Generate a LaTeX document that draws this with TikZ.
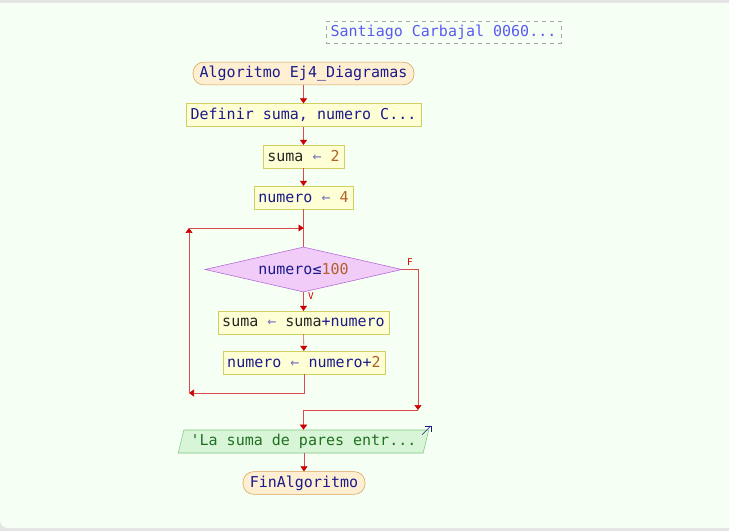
\documentclass[tikz,border=0pt]{standalone}
\usepackage{fontspec}
\setmonofont{DejaVu Sans Mono}
\usetikzlibrary{shapes.geometric, arrows.meta}

\definecolor{fondo}{HTML}{F6FFF4}
\definecolor{borde}{HTML}{E4E4E4}
\definecolor{linea}{HTML}{D94C4C}
\definecolor{punta}{HTML}{CC0000}
\definecolor{texto}{HTML}{1A1A8C}
\definecolor{numero}{HTML}{B0602A}
\definecolor{titulo}{HTML}{5A5AF0}

\tikzset{
  inicio/.style={draw={rgb,255:red,216;green,160;blue,80}, fill={rgb,255:red,255;green,239;blue,210},
    rounded corners=8pt, inner sep=0pt, minimum height=17pt, text=texto},
  accion/.style={draw={rgb,255:red,208;green,208;blue,96}, fill={rgb,255:red,255;green,255;blue,214},
    inner sep=0pt, minimum height=17pt, text=texto},
  decision/.style={diamond, draw={rgb,255:red,176;green,96;blue,216},
    fill={rgb,255:red,242;green,204;blue,248}, aspect=4.4,
    inner sep=0pt, minimum width=147.75pt, minimum height=33.75pt, text=texto},
  salida/.style={trapezium, trapezium stretches=true, trapezium left angle=70,
    trapezium right angle=110, draw={rgb,255:red,128;green,200;blue,128},
    fill={rgb,255:red,216;green,245;blue,216},
    inner sep=0pt, minimum width=188.25pt, minimum height=17.25pt, text={rgb,255:red,32;green,112;blue,32}},
  flecha/.style={linea, -{Triangle[length=3.75pt, width=5.25pt, fill=punta, color=punta]}},
  rotulo/.style={punta, font=\ttfamily\fontsize{7}{8}\selectfont}
}

\begin{document}
\begin{tikzpicture}[x=0.75pt, y=-0.75pt, font=\ttfamily\fontsize{11.25}{13}\selectfont]
% Background
\fill[borde] (0,0) rectangle (729,531);
\fill[fondo] (0,3) rectangle (729,520);
\fill[fondo, rounded corners=6pt] (0,500) rectangle (729,528);
\fill[fondo] (20,500) rectangle (729,528);
\useasboundingbox (0,0) rectangle (729,531);
% Author
\node[draw=gray!70, dashed, text=titulo, inner sep=0pt, minimum width=176pt,
  minimum height=16.5pt] (autor) at (443.5,32) {Santiago Carbajal 0060...};
% Blocks of the diagram
\node[inicio, minimum width=165.75pt] (ini) at (303.5,73.5) {Algoritmo Ej4\_Diagramas};
\node[accion, minimum width=176.25pt] (def) at (303.5,115) {Definir suma, numero C...};
\node[accion, minimum width=60.75pt] (s2) at (303.5,156.5) {\textcolor{black!85}{suma} {\color{texto!60}←} \textcolor{numero}{2}};
\node[accion, minimum width=74.25pt] (n4) at (303.5,197.5) {numero {\color{texto!60}←} \textcolor{numero}{4}};
\node[decision] (cond) at (303.5,269.5) {numero≤\textcolor{numero}{100}};
\node[accion, minimum width=128.25pt] (s3) at (303.5,322.5) {\textcolor{black!85}{suma} {\color{texto!60}←} \textcolor{black!85}{suma}+numero};
\node[accion, minimum width=121.5pt] (n3) at (304,362.5) {numero {\color{texto!60}←} numero+\textcolor{numero}{2}};
\node[salida] (sal) at (303.5,441.5) {'La suma de pares entr...};
\node[inicio, minimum width=91.5pt] (fin) at (304,483) {FinAlgoritmo};
% Corners of the loop
\coordinate (junta) at (303.5,228);
\coordinate (vuelta) at (189,393);
\coordinate (arriba) at (189,228);
\coordinate (falso) at (418,410);
\coordinate (union) at (303.5,410);
% Connectors
\draw[flecha] (ini) -- (def);
\draw[flecha] (def) -- (s2);
\draw[flecha] (s2) -- (n4);
\draw[linea] (n4) -- (cond);
\draw[flecha] (cond) -- node[rotulo, pos=0.2, right] {V} (s3);
\draw[flecha] (s3) -- (n3);
\draw[flecha] (n3.south) |- (vuelta);
\draw[flecha] (vuelta) -- (arriba);
\draw[flecha] (arriba) -- (junta);
\draw[flecha] (cond.east) -| (falso);
\draw[linea] (falso) -- (union);
\draw[flecha] (union) -- (sal.north -| union);
\draw[flecha] (sal.south -| fin) -- (fin);
\node[rotulo] (etqf) at (410,262) {F};
% Output mark
\draw[texto, -{Straight Barb[length=3pt]}] ([shift={(-7,5)}]sal.top right corner) -- ++(9,-9);
\end{tikzpicture}
\end{document}
